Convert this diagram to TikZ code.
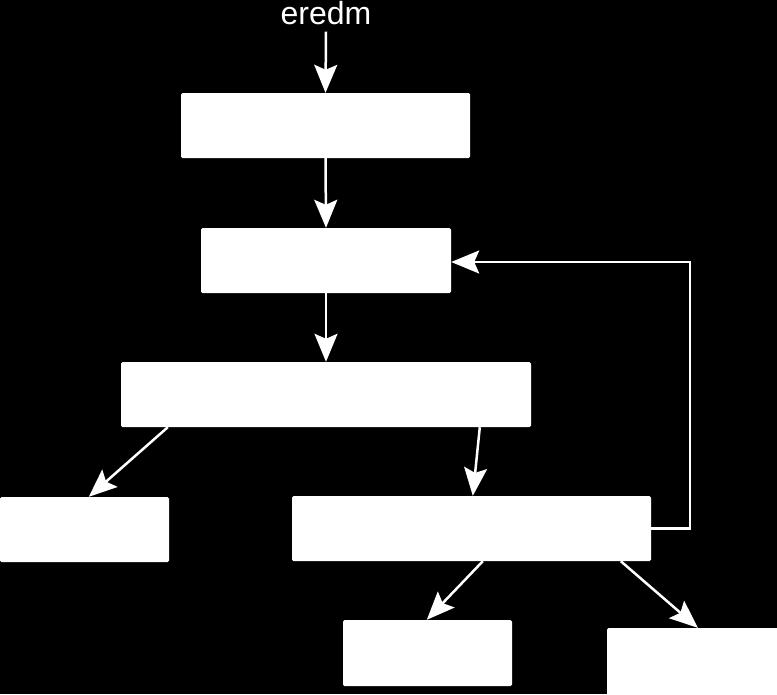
\documentclass[tikz,border=0pt]{standalone}
\usepackage{fontspec}
\setmainfont{Liberation Sans}
\usetikzlibrary{arrows.meta}
\begin{document}
\begin{tikzpicture}[x=1pt,y=-1pt,
  box/.style={draw=none,fill=white,rounded corners=1.5pt,inner sep=0pt,rectangle},
  conn/.style={draw=white,line width=2.5pt,-{Stealth[length=28pt,width=23pt,inset=5pt]}},
  lbl/.style={text=white,font=\fontsize{32}{36}\selectfont,inner sep=0pt}]
\fill[black] (0,0) rectangle (777,694);
\useasboundingbox (0,0) rectangle (777,694);
\clip (0,0) rectangle (777,694);
\node[lbl,anchor=base] (in) at (326,24) {eredm};
\node[box,minimum width=289pt,minimum height=65pt] (b1) at (325.5,125.5) {};
\node[box,minimum width=250pt,minimum height=65pt] (b2) at (326,260.5) {};
\node[box,minimum width=410pt,minimum height=65pt] (b3) at (326,394.5) {};
\node[box,minimum width=169pt,minimum height=65pt] (b4) at (84.5,529.5) {};
\node[box,minimum width=359pt,minimum height=65pt] (b5) at (471.5,528.5) {};
\node[box,minimum width=169pt,minimum height=66pt] (b6) at (427.5,653) {};
\node[box,minimum width=172pt,minimum height=68pt] (b7) at (693,662) {};
\coordinate (fbr) at (690,528.5);
\coordinate (fbt) at (690,262);
\draw[conn] ([yshift=-7pt]in.south) -- (b1.north);
\draw[conn] (b1.south) -- (b2.north);
\draw[conn] (b2.south) -- (b3.north);
\draw[conn] ([xshift=47pt]b3.south west) -- ([xshift=89pt]b4.north west);
\draw[conn] ([xshift=359pt]b3.south west) -- ([xshift=181pt]b5.north west);
\draw[conn] ([xshift=191pt]b5.south west) -- ([xshift=84pt]b6.north west);
\draw[conn] ([xshift=329pt]b5.south west) -- ([xshift=91pt]b7.north west);
\draw[conn] (b5.east |- fbr) -- (fbr) -- (fbt) -- (b2.east |- fbt);
\end{tikzpicture}
\end{document}
